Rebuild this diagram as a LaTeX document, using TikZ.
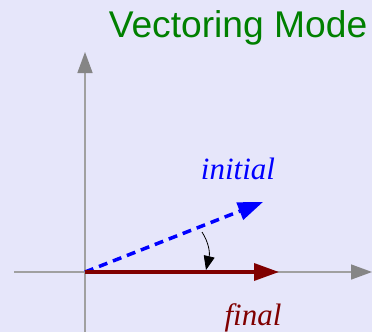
\documentclass[tikz,border=0pt]{standalone}
\usepackage{fontspec}
\setmainfont{Liberation Serif}
\newfontfamily\titlefont{Liberation Sans}
\usetikzlibrary{arrows.meta}
\definecolor{bg}{HTML}{E6E6FA}
\definecolor{axisgray}{HTML}{A0A0A0}
\definecolor{headgray}{HTML}{858585}
\definecolor{darkred}{HTML}{800000}
\definecolor{titlegreen}{HTML}{008000}
\begin{document}
\begin{tikzpicture}[x=1pt,y=-1pt,
  axis/.style={draw=axisgray,line width=1.5pt,-{Triangle[length=21pt,width=15pt,color=headgray]}},
  finalvec/.style={draw=darkred,line width=3.5pt,-{Triangle[length=25pt,width=17pt]}},
  initvec/.style={draw=blue,line width=3.5pt,dash pattern=on 9pt off 6pt,-{Triangle[length=25pt,width=18pt]}},
  rotarrow/.style={draw=black,line width=0.8pt,-{Triangle[length=14pt,width=11pt]}},
  lbl/.style={font=\itshape\fontsize{31}{31}\selectfont,anchor=base,inner sep=0pt}]
\fill[bg] (0,0) rectangle (372,332);
\useasboundingbox (0,0) rectangle (372,332);
\coordinate (O) at (85,272);
\coordinate (ybot) at (85,332);
\coordinate (ytop) at (85,52);
\coordinate (xleft) at (14,272);
\coordinate (xright) at (372,272);
\coordinate (fin) at (279,272);
\coordinate (ini) at (263,202);
\coordinate (rs) at (202,232);
\coordinate (re) at (206,270);
\draw[axis] (ybot) -- (ytop);
\draw[axis] (xleft) -- (xright);
\draw[initvec] (O) -- (ini);
\draw[finalvec] (O) -- (fin);
\draw[rotarrow] (rs) .. controls (209,243) and (210,253) .. (re);
\node[lbl,text=blue] (initial) at (238,179) {initial};
\node[lbl,text=darkred] (final) at (253,325) {final};
\node[font=\titlefont\fontsize{37.2}{37.2}\selectfont,text=titlegreen,anchor=base,inner sep=0pt] (title) at (238,37) {Vectoring Mode};
\end{tikzpicture}
\end{document}
